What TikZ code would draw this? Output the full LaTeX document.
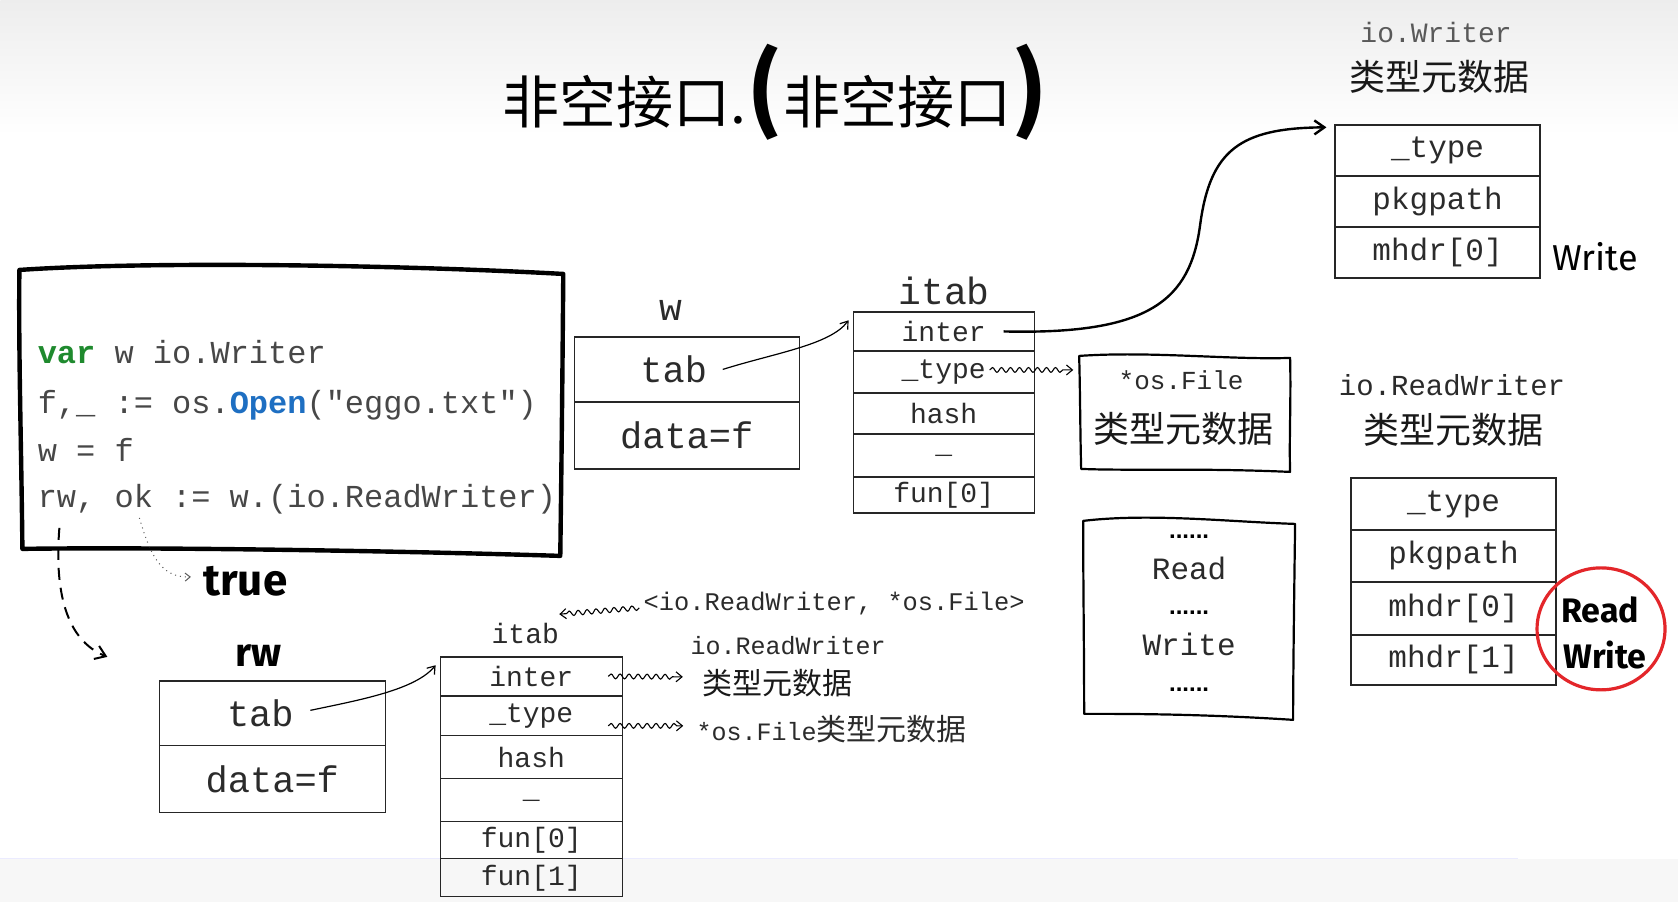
\documentclass[tikz,border=0pt]{standalone}
\usepackage{fontspec}
\usetikzlibrary{arrows.meta,decorations.pathmorphing,calc,shapes.geometric}
\newfontfamily\mono{Liberation Mono}
\newfontfamily\cjk{Noto Sans CJK SC}
\newfontfamily\hand{Fira Sans}
\newfontfamily\sans{Liberation Sans}
\definecolor{codegreen}{HTML}{1F8A2E}
\definecolor{codeblue}{HTML}{1E6FC2}
\definecolor{ink}{HTML}{2B2B2B}
\definecolor{redmark}{HTML}{E3262A}
\begin{document}
\begin{tikzpicture}[x=0.5pt,y=-0.5pt,
  cell/.style={draw=black!85, line width=0.65pt, inner sep=0pt, text=ink, font=\mono\fontsize{14}{16}\selectfont},
  cellbig/.style={cell, font=\mono\fontsize{18.5}{20}\selectfont},
  cellmid/.style={cell, font=\mono\fontsize{15.5}{18}\selectfont},
  lbl/.style={inner sep=0pt, text=ink, font=\mono\fontsize{19}{21}\selectfont},
  monotxt/.style={inner sep=0pt, text=ink, font=\mono\fontsize{14}{16}\selectfont},
  cjktxt/.style={inner sep=0pt, text=black!90, font=\cjk\fontsize{18}{20}\selectfont},
  codeline/.style={anchor=base west, inner sep=0pt, text=black!72, font=\mono\fontsize{16}{18}\selectfont},
  handtxt/.style={inner sep=0pt, text=black, font=\hand\fontsize{18}{20}\selectfont},
  dotline/.style={inner sep=0pt, text=black, font=\sans\bfseries\fontsize{12}{14}\selectfont},
  ptr/.style={line width=0.6pt, -{Straight Barb[length=3.5pt,width=5pt]}},
  wavy/.style={line width=0.55pt, decorate, decoration={snake, amplitude=1.2pt, segment length=4.5pt, post length=3pt}, -{Straight Barb[length=3pt,width=5pt]}},
  handbox/.style={line width=1.1pt, line join=round},
  codeframe/.style={line width=2.2pt, line join=round}]
% background
\fill[white] (0,0) rectangle (1678,902);
\shade[top color=black!7, bottom color=white] (0,0) rectangle (1678,135);
\fill[black!3] (0,859) rectangle (1678,902);
\draw[line width=0.4pt, blue!8] (0,859) -- (1518,859);

% title
\node[inner sep=0pt, text=black] (title) at (775,92)
  {\cjk\fontsize{28.5}{30}\selectfont 非空接口.{\bfseries\fontsize{46}{46}\selectfont\raisebox{1pt}{(}}非空接口{\bfseries\fontsize{46}{46}\selectfont\raisebox{1pt}{)}}};

% code box
\draw[codeframe] (19,270) .. controls (150,261) and (400,265) .. (563,274)
  .. controls (562,400) and (561,480) .. (560,556)
  .. controls (400,551) and (150,547) .. (22,549)
  .. controls (21,450) and (18,350) .. cycle;
\node[codeline] (code1) at (37,364) {\textcolor{codegreen}{\bfseries var} w io.Writer};
\node[codeline] (code2) at (37,414) {f,\_ := os.\textcolor{codeblue}{\bfseries Open}("eggo.txt")};
\node[codeline] (code3) at (37,462) {w = f};
\node[codeline] (code4) at (37,508) {rw, ok := w.(io.ReadWriter)};
\node[handtxt, font=\hand\bfseries\fontsize{22}{24}\selectfont] (truelbl) at (245,581) {true};
\draw[line width=0.5pt, dotted, black!65, -{Straight Barb[length=2.5pt,width=4pt]}]
  ($(code4.base west)+(102,10)$) .. controls (150,555) and (160,578) .. ($(truelbl.west)+(-12,-4)$);
\coordinate (rwarrow) at (107,657);
\draw[line width=1pt, dash pattern=on 6pt off 4pt, -{Straight Barb[length=5pt,width=7pt]}]
  ($(code4.base west)+(22,20)$) .. controls (54,590) and (65,640) .. (rwarrow);

% w box
\node[lbl] (wlbl) at (671,311) {w};
\node[cellbig, minimum width=112.5pt, minimum height=32.5pt] (wtab) at (686.5,369.5) {tab\hspace*{13pt}};
\node[cellbig, minimum width=112.5pt, minimum height=33.5pt] (wdata) at (686.5,435.5) {data=f};

% itab (w)
\node[lbl] (i1lbl) at (944,291) {itab};
\node[cell, minimum width=90.5pt, minimum height=19.5pt] (i1inter) at (943.5,331.5) {inter};
\node[cell, minimum width=90.5pt, minimum height=21pt] (i1type) at (943.5,372) {\_type};
\node[cell, minimum width=90.5pt, minimum height=20.5pt] (i1hash) at (943.5,413.5) {hash};
\node[cell, minimum width=90.5pt, minimum height=21.5pt] (i1blank) at (943.5,455.5) {\_};
\node[cell, minimum width=90.5pt, minimum height=18pt] (i1fun) at (943.5,495) {fun[0]};

% io.Writer metadata
\node[monotxt, text=black!65] (iwlbl1) at (1436,32) {io.Writer};
\node[cjktxt] (iwlbl2) at (1439,77) {类型元数据};
\node[cellmid, minimum width=102.5pt, minimum height=25.5pt] (iwtype) at (1437.5,150.5) {\_type};
\node[cellmid, minimum width=102.5pt, minimum height=25.5pt] (iwpkg) at (1437.5,201.5) {pkgpath};
\node[cellmid, minimum width=102.5pt, minimum height=25.5pt] (iwmhdr) at (1437.5,252.5) {mhdr[0]};
\node[handtxt] (iwwrite) at (1595,257) {Write};

% *os.File metadata
\node[minimum width=105.5pt, minimum height=58pt, inner sep=0pt] (osf) at (1185,414) {};
\draw[handbox] (1079,356) .. controls (1150,351) and (1230,360) .. (1290,358)
  .. controls (1291,400) and (1289,440) .. (1290,472)
  .. controls (1200,468) and (1130,471) .. (1081,469)
  .. controls (1080,430) and (1080,390) .. cycle;
\node[monotxt, font=\mono\fontsize{13}{15}\selectfont] (osfname) at (1181,380) {*os.File};
\node[cjktxt] (osfcn) at (1183,429) {类型元数据};

% method box
\node[minimum width=106pt, minimum height=99pt, inner sep=0pt] (rwb) at (1189,620) {};
\draw[handbox] (1083,521) .. controls (1150,513) and (1230,522) .. (1295,524)
  .. controls (1294,600) and (1293,680) .. (1293,720)
  .. controls (1200,714) and (1130,714) .. (1084,714)
  .. controls (1084,650) and (1083,580) .. cycle;
\node[dotline] (dots1) at (1189,537) {......};
\node[monotxt, font=\mono\fontsize{15.5}{17}\selectfont] (mread) at (1189,569) {Read};
\node[dotline] (dots2) at (1189,613) {......};
\node[monotxt, font=\mono\fontsize{15.5}{17}\selectfont] (mwrite) at (1189,645) {Write};
\node[dotline] (dots3) at (1189,690) {......};

% io.ReadWriter metadata
\node[monotxt, font=\mono\fontsize{14.5}{16}\selectfont] (irlbl1) at (1452,385) {io.ReadWriter};
\node[cjktxt] (irlbl2) at (1453,430) {类型元数据};
\node[cellmid, minimum width=102.5pt, minimum height=26pt] (irtype) at (1453.5,504) {\_type};
\node[cellmid, minimum width=102.5pt, minimum height=26pt] (irpkg) at (1453.5,556) {pkgpath};
\node[cellmid, minimum width=102.5pt, minimum height=26.5pt] (irm0) at (1453.5,608.5) {mhdr[0]};
\node[cellmid, minimum width=102.5pt, minimum height=25pt] (irm1) at (1453.5,660) {mhdr[1]};
\node[ellipse, draw=redmark, line width=1.6pt, minimum width=64pt, minimum height=61pt, inner sep=0pt] (redc) at (1601,629) {};
\node[handtxt, font=\hand\bfseries\fontsize{17}{20}\selectfont] (irread) at (1600,610) {Read};
\node[handtxt, font=\hand\bfseries\fontsize{17}{20}\selectfont] (irwrite) at (1605,655) {Write};

% rw box
\node[handtxt, font=\hand\bfseries\fontsize{20}{22}\selectfont] (rwlbl) at (258,656) {rw};
\node[cellbig, minimum width=113pt, minimum height=32.5pt] (rwtab) at (272,713.5) {tab\hspace*{12pt}};
\node[cellbig, minimum width=113pt, minimum height=33.5pt] (rwdata) at (272,779.5) {data=f};

% itab (rw)
\node[lbl, font=\mono\fontsize{14}{16}\selectfont] (i2lbl) at (525,634) {itab};
\node[cell, minimum width=91pt, minimum height=19.5pt] (i2inter) at (531,676.5) {inter};
\node[cell, minimum width=91pt, minimum height=20pt] (i2type) at (531,716) {\_type};
\node[cell, minimum width=91pt, minimum height=21.5pt] (i2hash) at (531,757.5) {hash};
\node[cell, minimum width=91pt, minimum height=21.5pt] (i2blank) at (531,800.5) {\_};
\node[cell, minimum width=91pt, minimum height=18.5pt] (i2fun0) at (531,840.5) {fun[0]};
\node[cell, minimum width=91pt, minimum height=19pt] (i2fun1) at (531,878) {fun[1]};

% bottom labels
\node[monotxt, font=\mono\fontsize{12.7}{15}\selectfont] (tuple) at (834,604) {<io.ReadWriter, *os.File>};
\node[monotxt, font=\mono\fontsize{12.5}{15}\selectfont] (brlbl1) at (788,646) {io.ReadWriter};
\node[cjktxt, font=\cjk\fontsize{15}{17}\selectfont] (brlbl2) at (777,683) {类型元数据};
\node[monotxt, anchor=west, font=\mono\fontsize{12.5}{15}\selectfont] (oslbl) at (696,729) {*os.File{\cjk\fontsize{15}{17}\selectfont 类型元数据}};

% connectors
\draw[ptr] ($(wtab.center)+(36,0)$) .. controls (775,353) and (830,345) .. ($(i1inter.north west)+(-4,9)$);
\draw[ptr, line width=1.2pt, -{Straight Barb[length=5pt,width=7pt]}] ($(i1inter.center)+(60,0)$)
  .. controls (1150,335) and (1190,300) .. (1200,225)
  .. controls (1210,150) and (1240,128) .. ($(iwtype.north west)+(-8,3)$);
\draw[wavy] ($(i1type.center)+(46,-2)$) -- ($(osf.west |- i1type.center)+(-6,-2)$);
\draw[ptr] ($(rwtab.center)+(38,-3)$) .. controls (360,700) and (415,690) .. ($(i2inter.north west)+(-4,9)$);
\draw[wavy] ($(tuple.west)+(-4,4)$) -- ($(i2lbl.north east)+(0,-9)$);
\draw[wavy] ($(i2inter.center)+(77,0)$) -- ($(brlbl2.west)+(-19,-6)$);
\draw[wavy] ($(i2type.center)+(77,10)$) -- ($(oslbl.west)+(-13,-3)$);
\end{tikzpicture}
\end{document}
